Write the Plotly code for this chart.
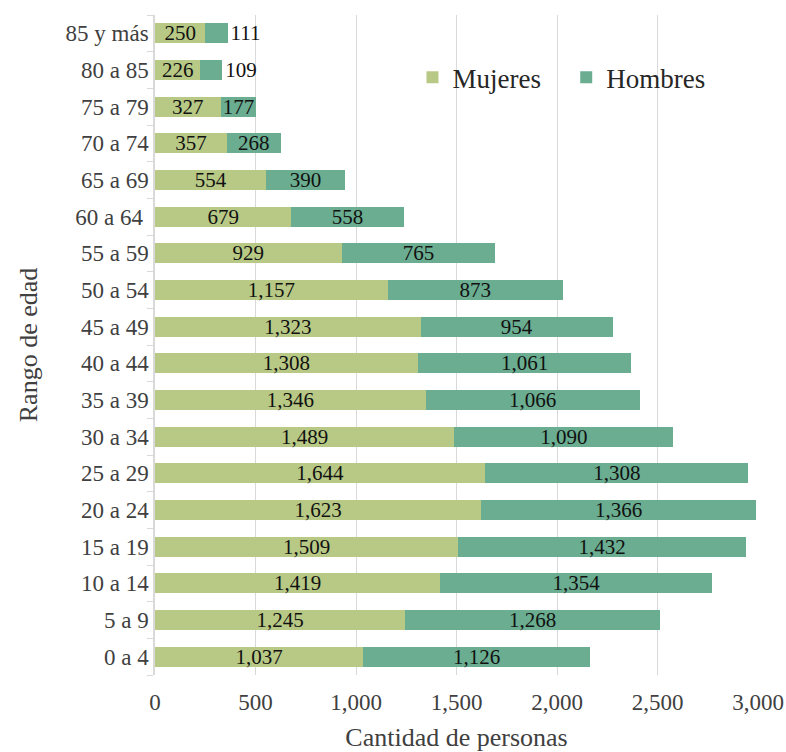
import plotly.graph_objects as go

categorias = ["0 a 4", "5 a 9", "10 a 14", "15 a 19", "20 a 24", "25 a 29",
              "30 a 34", "35 a 39", "40 a 44", "45 a 49", "50 a 54", "55 a 59",
              "60 a 64\u00a0", "65 a 69", "70 a 74", "75 a 79", "80 a 85", "85 y más"]
mujeres = [1037, 1245, 1419, 1509, 1623, 1644, 1489, 1346, 1308, 1323, 1157, 929,
           679, 554, 357, 327, 226, 250]
hombres = [1126, 1268, 1354, 1432, 1366, 1308, 1090, 1066, 1061, 954, 873, 765,
           558, 390, 268, 177, 109, 111]
x_ticks = [0, 500, 1000, 1500, 2000, 2500, 3000]

FONT = "Liberation Serif, Times New Roman, serif"

def fmt(v):
    return f"{v:,}"

pos_h = ["outside" if v < 150 else "inside" for v in hombres]

fig = go.Figure()
fig.add_trace(go.Bar(
    y=categorias, x=mujeres, orientation="h", name="Mujeres\u00a0\u00a0\u00a0",
    marker=dict(color="#b8c986", line=dict(width=0)),
    text=[fmt(v) for v in mujeres], textposition="inside",
    insidetextanchor="middle", constraintext="none",
    textfont=dict(family=FONT, size=21, color="#111111"),
    hoverinfo="x+y",
))
fig.add_trace(go.Bar(
    y=categorias, x=hombres, orientation="h", name="Hombres",
    marker=dict(color="#6aad90", line=dict(width=0)),
    text=[fmt(v) for v in hombres], textposition=pos_h,
    insidetextanchor="middle", constraintext="none",
    textfont=dict(family=FONT, size=21, color="#111111"),
    outsidetextfont=dict(family=FONT, size=21, color="#111111"),
    cliponaxis=False,
    hoverinfo="x+y",
))

fig.update_layout(
    width=786, height=752,
    barmode="stack", bargap=0.45,
    plot_bgcolor="white", paper_bgcolor="white",
    margin=dict(l=155, r=28, t=15, b=77),
    font=dict(family=FONT, color="#404040"),
    legend=dict(orientation="h", x=0.427, y=0.905, xanchor="left", yanchor="middle",
                font=dict(family=FONT, size=27, color="#262626"),
                bgcolor="rgba(0,0,0,0)", itemwidth=30, traceorder="normal"),
    xaxis=dict(range=[0, 3000], tickvals=x_ticks, tickformat=",d", automargin=False,
               showgrid=True, gridcolor="#d9d9d9", gridwidth=1.3,
               zeroline=False, showline=False,
               tickfont=dict(family=FONT, size=23, color="#404040"),
               title=dict(text="Cantidad de personas", font=dict(family=FONT, size=26, color="#404040"),
                          standoff=15),
               ticks="", ticklabelstandoff=11),
    yaxis=dict(categoryorder="array", categoryarray=categorias, automargin=False,
               showline=True, linecolor="#d9d9d9", linewidth=1.5,
               ticks="outside", tickson="boundaries", ticklen=6, tickcolor="#d9d9d9",
               tickfont=dict(family=FONT, size=23, color="#404040"),
               title=dict(text="Rango de edad", font=dict(family=FONT, size=26, color="#404040"),
                          standoff=20),
               showgrid=False),
    showlegend=True,
)

fig.write_html("out.html")
